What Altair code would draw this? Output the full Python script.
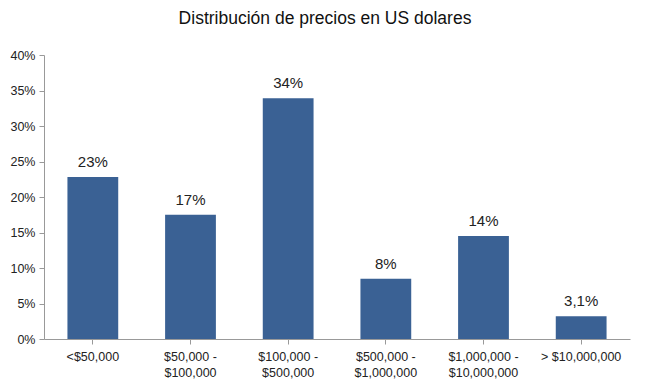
import altair as alt
import pandas as pd

categories = ["<$50,000", "$50,000 -\n$100,000", "$100,000 -\n$500,000",
              "$500,000 -\n$1,000,000", "$1,000,000 -\n$10,000,000", "> $10,000,000"]
values = [0.228, 0.175, 0.339, 0.085, 0.145, 0.032]
labels = ["23%", "17%", "34%", "8%", "14%", "3,1%"]
yticks = [0, 0.05, 0.1, 0.15, 0.2, 0.25, 0.3, 0.35, 0.4]

df = pd.DataFrame({"cat": categories, "val": values, "lab": labels})

FONT = "Liberation Sans"

x = alt.X("cat:N", sort=categories, title=None,
          scale=alt.Scale(paddingInner=0.48, paddingOuter=0.24),
          axis=alt.Axis(labelAngle=0, labelExpr="split(datum.label, '\\n')",
                        labelFontSize=12.5, labelColor="#222", labelFont=FONT,
                        domainColor="#999", tickColor="#999", tickSize=5,
                        labelPadding=6, labelLineHeight=16))
y = alt.Y("val:Q", title=None,
          scale=alt.Scale(domain=[0, 0.4], nice=False),
          axis=alt.Axis(format=".0%", values=yticks, tickCount=9,
                        labelOverlap=False,
                        grid=False, labelFontSize=12.5, labelColor="#222", labelFont=FONT,
                        domainColor="#999", tickColor="#999", tickSize=5, labelPadding=4))

bars = alt.Chart(df).mark_bar(color="#3A6194").encode(x=x, y=y)
text = alt.Chart(df).mark_text(dy=-15, fontSize=15, font=FONT, color="#222").encode(
    x=x, y=y, text="lab:N")

chart = (bars + text).properties(
    width=586, height=284,
    title=alt.TitleParams("Distribución de precios en US dolares", fontSize=17.5,
                          font=FONT, fontWeight="normal", color="#111", anchor="middle",
                          dx=-12, offset=22),
    autosize=alt.AutoSizeParams(type="none"),
    padding={"left": 36, "top": 47, "right": 6, "bottom": 40},
).configure_view(stroke=None)

chart.save("out.html", embed_options={"renderer": "svg", "actions": False})
